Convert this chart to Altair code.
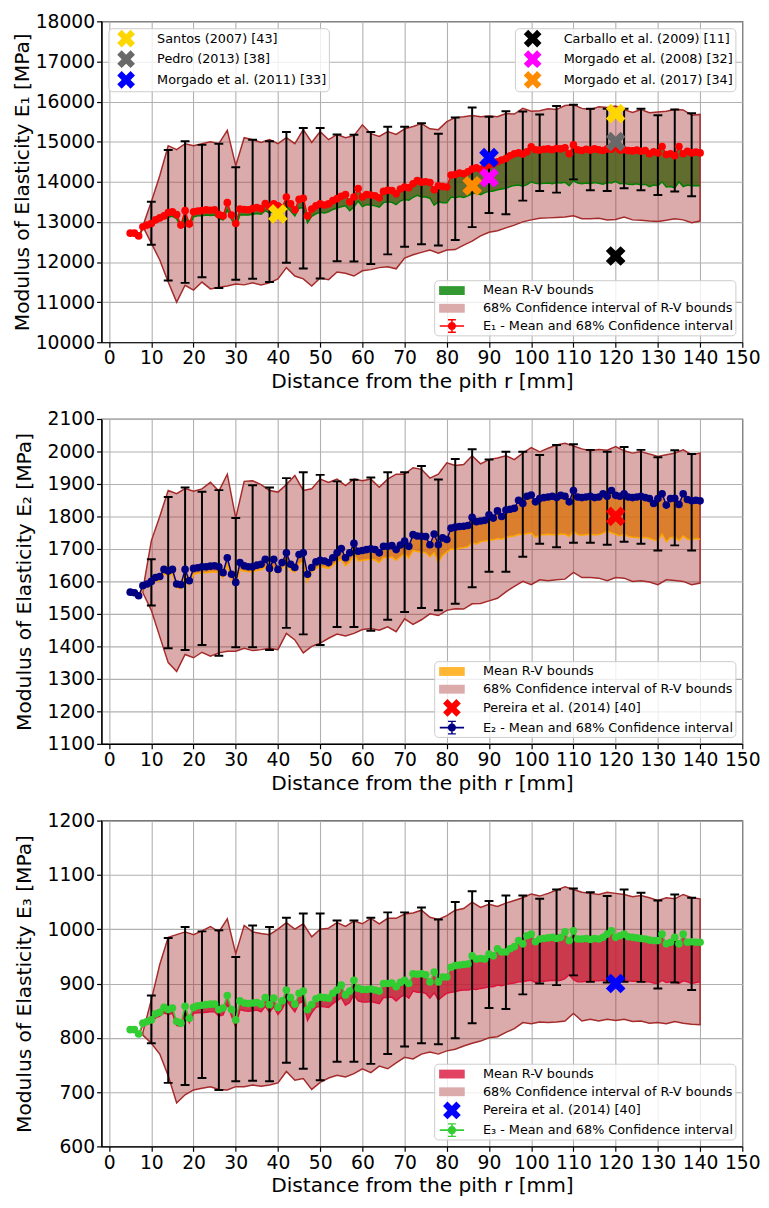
import altair as alt
import pandas as pd

FONT = "DejaVu Sans"
BROWN = "#a52a2a"

# ---------------- x positions ----------------
X_MEAN = list(range(5, 141))
X_CI = list(range(8, 141, 2))
X_ERR = list(range(10, 139, 4))
X_TICKS = list(range(0, 151, 10))

# ---------------- Panel 1 : E1 ----------------
E1_MEAN = [12720, 12720, 12650, 12880, 12920, 12960, 13050, 13100, 13150, 13230,
           13250, 13180, 12920, 13280, 12950, 13250, 13270, 13280, 13300, 13290,
           13300, 13180, 13150, 13480, 13170, 12960, 13320, 13310, 13300, 13330,
           13360, 13330, 13460, 13380, 13450, 13400, 13350, 13620, 13450, 13300,
           13560, 13590, 13150, 13320, 13400, 13450, 13420, 13450, 13530, 13580,
           13640, 13680, 13500, 13620, 13830, 13620, 13680, 13670, 13650, 13600,
           13760, 13790, 13780, 13700, 13820, 13870, 13850, 13950, 14030, 13990,
           14000, 13980, 13800, 13900, 13880, 13870, 14170, 14180, 14220, 14200,
           14250, 14320, 14350, 14310, 14380, 14420, 14450, 14500, 14540, 14580,
           14650, 14700, 14720, 14690, 14750, 14870, 14800, 14790, 14810, 14820,
           14800, 14830, 14820, 14850, 14700, 14920, 14800, 14780, 14810, 14790,
           14820, 14800, 14780, 14820, 14810, 14870, 14790, 14800, 14780, 14770,
           14790, 14760, 14780, 14700, 14750, 14720, 14880, 14680, 14700, 14650,
           14880, 14700, 14760, 14720, 14740, 14720]
E1_RV_LOW = [12680, 12680, 12620, 12830, 12870, 12900, 12990, 13040, 13080, 13120,
             13140, 13080, 12860, 13150, 12880, 13130, 13150, 13150, 13170, 13160,
             13170, 13080, 13050, 13300, 13060, 12870, 13180, 13170, 13170, 13190,
             13210, 13190, 13280, 13220, 13270, 13240, 13200, 13380, 13270, 13150,
             13340, 13360, 12980, 13140, 13200, 13240, 13220, 13250, 13310, 13340,
             13380, 13400, 13280, 13370, 13520, 13380, 13430, 13420, 13400, 13370,
             13480, 13500, 13490, 13430, 13520, 13560, 13540, 13610, 13660, 13620,
             13620, 13590, 13420, 13500, 13480, 13480, 13620, 13600, 13630, 13610,
             13650, 13700, 13720, 13680, 13730, 13760, 13770, 13800, 13820, 13840,
             13880, 13910, 13920, 13890, 13930, 14000, 13960, 13950, 13960, 13970,
             13950, 13980, 13970, 13990, 13900, 14030, 13970, 13950, 13970, 13950,
             13980, 13960, 13940, 13980, 13970, 14010, 13950, 13960, 13940, 13930,
             13950, 13920, 13940, 13880, 13920, 13900, 14000, 13870, 13880, 13850,
             14000, 13880, 13920, 13900, 13910, 13900]
E1_CI_HIGH = [12900, 13500, 14150, 14900, 14800, 14950, 14900, 14950, 15000, 14950,
              15280, 14400, 15100, 15050, 14980, 15050, 14950, 15100, 14950, 15300,
              14980, 15250, 15050, 15180, 15100, 15150, 15420, 15200, 15130, 15250,
              15180, 15320, 15380, 15450, 15320, 15300, 15500, 15600, 15620, 15650,
              15620, 15640, 15620, 15700, 15690, 15830, 15760, 15770, 15820, 15800,
              15900, 15920, 15830, 15800, 15870, 15850, 15890, 15800, 15730, 15800,
              15720, 15740, 15760, 15800, 15790, 15660, 15680]
E1_CI_LOW = [12880, 12470, 12050, 11500, 11000, 11420, 11300, 11500, 11330, 11370,
             11400, 11450, 11430, 11480, 11430, 11480, 11580, 11860, 11650, 11580,
             11400, 11600, 11560, 11750, 11720, 11650, 11780, 11810, 11860, 11880,
             11830, 12100, 12180, 12240, 12300, 12220, 12300, 12310, 12420, 12520,
             12650, 12740, 12780, 12850, 12920, 13000, 13050, 13090, 13100, 13110,
             13120, 13150, 13080, 13080, 13090, 13050, 13060, 13120, 13050, 13040,
             13020, 13010, 13040, 13080, 13050, 12980, 13020]
E1_ERR_LOW = [12430, 11540, 11480, 11620, 11350, 11560, 11580, 11500, 11980, 11840,
              11590, 12020, 12010, 11950, 12190, 12380, 12440, 12410, 12550, 12870,
              13220, 13190, 13530, 13770, 13730, 14060, 13790, 13770, 13840, 13790,
              13670, 13760, 13640]
E1_ERR_HIGH = [13500, 14790, 15010, 14920, 14950, 14360, 15050, 15010, 15240, 15340,
               15340, 15180, 15170, 15240, 15370, 15370, 15460, 15200, 15600, 15850,
               15620, 15760, 15750, 15680, 15890, 15920, 15820, 15820, 15820, 15820,
               15660, 15800, 15710]

# ---------------- Panel 2 : E2 ----------------
E2_MEAN = [1567, 1565, 1556, 1587, 1592, 1600, 1612, 1615, 1637, 1632,
           1637, 1592, 1590, 1637, 1602, 1640, 1642, 1645, 1645, 1647,
           1648, 1645, 1627, 1673, 1622, 1597, 1658, 1648, 1645, 1645,
           1650, 1653, 1668, 1640, 1668, 1637, 1658, 1688, 1653, 1643,
           1683, 1688, 1622, 1643, 1660, 1665, 1663, 1658, 1673, 1688,
           1701, 1673, 1688, 1717, 1693, 1695, 1698, 1700, 1698, 1688,
           1708, 1708, 1710, 1698, 1712, 1724, 1708, 1744, 1740, 1739,
           1738, 1713, 1746, 1713, 1734, 1729, 1764, 1767, 1769, 1770,
           1772, 1797, 1784, 1786, 1788, 1805, 1795, 1817, 1800, 1820,
           1822, 1825, 1850, 1840, 1862, 1866, 1845, 1855, 1858, 1860,
           1862, 1858, 1865, 1862, 1845, 1880, 1860, 1858, 1860, 1862,
           1858, 1860, 1870, 1862, 1880, 1865, 1862, 1870, 1860, 1858,
           1860, 1862, 1858, 1855, 1840, 1855, 1870, 1835, 1855, 1856,
           1837, 1870, 1852, 1848, 1850, 1848]
E2_RV_LOW = [1560, 1558, 1550, 1578, 1583, 1590, 1600, 1603, 1622, 1620,
             1622, 1580, 1578, 1620, 1590, 1622, 1625, 1627, 1627, 1629,
             1630, 1627, 1612, 1650, 1605, 1585, 1635, 1632, 1630, 1630,
             1634, 1636, 1645, 1625, 1645, 1625, 1640, 1660, 1635, 1628,
             1655, 1660, 1600, 1628, 1640, 1645, 1643, 1640, 1650, 1660,
             1668, 1648, 1660, 1680, 1663, 1665, 1667, 1668, 1666, 1658,
             1673, 1673, 1675, 1665, 1676, 1685, 1672, 1695, 1692, 1690,
             1688, 1675, 1688, 1658, 1680, 1690, 1700, 1698, 1702, 1704,
             1707, 1718, 1715, 1722, 1724, 1726, 1728, 1732, 1730, 1735,
             1738, 1740, 1745, 1744, 1747, 1749, 1736, 1742, 1744, 1745,
             1744, 1743, 1746, 1745, 1738, 1754, 1744, 1742, 1744, 1745,
             1743, 1744, 1748, 1755, 1750, 1745, 1740, 1745, 1738, 1736,
             1735, 1734, 1735, 1733, 1728, 1724, 1745, 1722, 1735, 1736,
             1725, 1740, 1730, 1728, 1732, 1730]
E2_CI_HIGH = [1575, 1725, 1800, 1880, 1870, 1886, 1878, 1885, 1905, 1878,
              1930, 1795, 1908, 1910, 1898, 1880, 1875, 1898, 1926, 1880,
              1885, 1915, 1905, 1915, 1895, 1915, 1910, 1915, 1890, 1915,
              1930, 1930, 1950, 1945, 1918, 1930, 1965, 1957, 1960, 1987,
              1962, 1975, 1980, 1987, 1975, 1995, 2012, 1999, 2010, 2020,
              2025, 2017, 2008, 2002, 2006, 2004, 2015, 2002, 1995, 2000,
              1992, 1985, 1990, 1995, 2005, 1990, 1995]
E2_CI_LOW = [1565, 1511, 1430, 1350, 1323, 1375, 1365, 1382, 1370, 1380,
             1385, 1385, 1394, 1387, 1390, 1394, 1390, 1440, 1420, 1380,
             1400, 1410, 1425, 1438, 1432, 1440, 1452, 1455, 1450, 1460,
             1445, 1485, 1468, 1482, 1500, 1495, 1511, 1516, 1515, 1531,
             1532, 1540, 1548, 1568, 1585, 1600, 1590, 1605, 1602, 1605,
             1607, 1628, 1612, 1612, 1610, 1602, 1612, 1610, 1600, 1602,
             1598, 1590, 1605, 1603, 1600, 1590, 1595]
E2_ERR_LOW = [1526, 1394, 1389, 1404, 1371, 1397, 1397, 1389, 1457, 1437,
              1404, 1460, 1460, 1448, 1482, 1506, 1518, 1511, 1531, 1582,
              1630, 1630, 1676, 1716, 1705, 1719, 1719, 1713, 1722, 1716,
              1695, 1711, 1695]
E2_ERR_HIGH = [1668, 1860, 1889, 1876, 1881, 1795, 1896, 1889, 1918, 1936,
               1928, 1908, 1913, 1920, 1936, 1936, 1955, 1914, 1977, 2007,
               1975, 1999, 1999, 1989, 2020, 2022, 2005, 1999, 2014, 2005,
               1982, 2004, 1992]

# ---------------- Panel 3 : E3 ----------------
E3_MEAN = [815, 815, 807, 827, 830, 833, 844, 847, 856, 852,
           855, 830, 827, 858, 836, 856, 859, 860, 861, 862,
           862, 852, 855, 878, 852, 833, 868, 864, 863, 864,
           865, 862, 874, 861, 873, 856, 868, 888, 874, 862,
           882, 886, 852, 861, 872, 875, 874, 873, 882, 888,
           897, 879, 886, 906, 891, 889, 889, 890, 888, 886,
           900, 900, 901, 894, 902, 906, 900, 918, 917, 918,
           916, 903, 921, 903, 912, 912, 930, 933, 934, 935,
           936, 951, 945, 946, 945, 954, 951, 964, 958, 958,
           964, 968, 979, 973, 988, 991, 977, 982, 983, 984,
           985, 983, 985, 995, 979, 997, 982, 982, 983, 981,
           983, 982, 985, 991, 997, 985, 988, 991, 986, 985,
           984, 983, 982, 980, 979, 979, 991, 973, 976, 985,
           973, 991, 976, 977, 976, 976]
E3_RV_LOW = [812, 812, 804, 823, 825, 828, 837, 840, 846, 843,
             845, 823, 821, 848, 828, 845, 846, 846, 847, 848,
             848, 840, 842, 862, 840, 820, 852, 850, 849, 850,
             851, 848, 858, 847, 857, 843, 853, 870, 858, 848,
             864, 867, 832, 846, 856, 858, 857, 856, 863, 868,
             874, 860, 865, 880, 868, 866, 866, 867, 865, 863,
             874, 874, 875, 868, 875, 879, 873, 886, 884, 884,
             882, 873, 883, 870, 876, 882, 884, 885, 887, 888,
             888, 890, 889, 891, 892, 894, 894, 897, 896, 898,
             900, 901, 903, 903, 905, 906, 902, 904, 904, 905,
             906, 905, 906, 909, 916, 907, 903, 903, 904, 904,
             905, 905, 906, 905, 906, 904, 905, 906, 905, 904,
             904, 904, 903, 903, 901, 900, 906, 902, 903, 903,
             900, 905, 903, 900, 902, 903]
E3_CI_HIGH = [810, 870, 935, 985, 990, 995, 990, 997, 1005, 995,
              1019, 955, 1007, 995, 992, 990, 1000, 1012, 1000, 1010,
              986, 1000, 1002, 1012, 1005, 1015, 1010, 1020, 1010, 1020,
              1020, 1028, 1030, 1035, 1022, 1018, 1025, 1035, 1038, 1050,
              1040, 1046, 1042, 1048, 1053, 1058, 1065, 1061, 1066, 1072,
              1078, 1073, 1068, 1066, 1064, 1068, 1066, 1064, 1060, 1062,
              1058, 1053, 1058, 1056, 1064, 1058, 1056]
E3_CI_LOW = [805, 790, 770, 730, 680, 695, 704, 707, 710, 705,
             704, 710, 710, 713, 711, 713, 717, 738, 722, 725,
             705, 718, 726, 731, 728, 734, 743, 736, 748, 743,
             754, 764, 761, 770, 774, 770, 776, 779, 785, 790,
             794, 800, 802, 810, 817, 828, 826, 829, 828, 829,
             831, 845, 831, 834, 831, 834, 832, 834, 830, 831,
             827, 828, 826, 830, 827, 825, 824]
E3_ERR_LOW = [790, 717, 713, 726, 704, 720, 721, 720, 754, 743,
              722, 756, 756, 752, 770, 784, 790, 788, 799, 827,
              855, 853, 880, 900, 897, 915, 903, 902, 903, 903,
              891, 902, 888]
E3_ERR_HIGH = [878, 984, 1004, 996, 998, 949, 1007, 1004, 1021, 1029,
               1029, 1016, 1016, 1021, 1031, 1031, 1040, 1018, 1050, 1070,
               1052, 1062, 1062, 1056, 1073, 1075, 1068, 1061, 1073, 1067,
               1053, 1064, 1058]

# ---------------- literature values ----------------
LIT_A_NAMES = ["Santos (2007) [43]", "Pedro (2013) [38]", "Morgado et al. (2011) [33]"]
LIT_A_COLORS = ["#ffd700", "#696969", "#0000ff"]
LIT_A_STUDY = ["Santos (2007) [43]", "Santos (2007) [43]", "Pedro (2013) [38]",
               "Morgado et al. (2011) [33]"]
LIT_A_X = [40, 120, 120, 90]
LIT_A_Y = [13200, 15700, 15000, 14600]

LIT_B_NAMES = ["Carballo et al. (2009) [11]", "Morgado et al. (2008) [32]",
               "Morgado et al. (2017) [34]"]
LIT_B_COLORS = ["#000000", "#ff00ff", "#ff8c00"]
LIT_B_X = [120, 90, 86]
LIT_B_Y = [12150, 14100, 13900]

PEREIRA = "Pereira et al. (2014) [40]"
PEREIRA_X = [120]
PEREIRA_E2 = [1800]
PEREIRA_E3 = [900]

# ---------------- symbol shapes ----------------
XPATH = "M0,-0.5L0.5,-1L1,-0.5L0.5,0L1,0.5L0.5,1L0,0.5L-0.5,1L-1,0.5L-0.5,0L-1,-0.5L-0.5,-1Z"
XLEG = ("M0,-0.53L0.53,-1.06L1.06,-0.53L0.53,0L1.06,0.53L0.53,1.06L0,0.53"
        "L-0.53,1.06L-1.06,0.53L-0.53,0L-1.06,-0.53L-0.53,-1.06Z")
RECT = "M-1.53,-0.53L1.53,-0.53L1.53,0.53L-1.53,0.53Z"
MEANSYM = ("M-1.45,-0.1L1.45,-0.1L1.45,0.1L-1.45,0.1Z"
           "M-0.49,0A0.49,0.49 0 1,1 0.49,0A0.49,0.49 0 1,1 -0.49,0Z"
           "M-0.09,-0.74L0.09,-0.74L0.09,0.74L-0.09,0.74Z"
           "M-0.47,-0.83L0.47,-0.83L0.47,-0.67L-0.47,-0.67Z"
           "M-0.47,0.67L0.47,0.67L0.47,0.83L-0.47,0.83Z")


def make_panel(mean, rv, ci_lo, ci_hi, e_lo, e_hi, ydom, ystep, ytitle,
               mean_color, band_color, band_legend, mean_label,
               width, height, ytitle_pad=0, lit_a=None, lit_b=None, extra=None):
    xs = alt.Scale(domain=[-1.8, 150], nice=False, zero=False)
    ys = alt.Scale(domain=ydom, nice=False, zero=False)
    xax = alt.Axis(values=X_TICKS, title="Distance from the pith r [mm]",
                   labelFlush=False, labelOverlap=False)
    yax = alt.Axis(values=list(range(ydom[0], ydom[1] + 1, ystep)), format="d",
                   title=ytitle, labelOverlap=False, titlePadding=ytitle_pad)

    def X():
        return alt.X("x:Q", scale=xs, axis=xax)

    def Y(f):
        return alt.Y(f + ":Q", scale=ys, axis=yax)

    df_m = pd.DataFrame({"x": X_MEAN, "mean": mean, "rv": rv})
    df_ci = pd.DataFrame({"x": X_CI, "lo": ci_lo, "hi": ci_hi})
    df_e = pd.DataFrame({"x": X_ERR, "lo": e_lo, "hi": e_hi})
    df_caps = pd.DataFrame({"x": X_ERR + X_ERR, "v": e_lo + e_hi})

    layers = [
        alt.Chart(df_m).mark_area(fill=band_color, fillOpacity=0.8, clip=True)
        .encode(x=X(), y=Y("rv"), y2=alt.Y2("mean:Q")),
        alt.Chart(df_ci).mark_area(fill=BROWN, fillOpacity=0.4, stroke=BROWN,
                                   strokeWidth=1.5, strokeOpacity=1, clip=True)
        .encode(x=X(), y=Y("lo"), y2=alt.Y2("hi:Q")),
        alt.Chart(df_m).mark_line(color=band_color, strokeWidth=1.5, clip=True)
        .encode(x=X(), y=Y("rv")),
        alt.Chart(df_e).mark_rule(color="black", strokeWidth=2, clip=True)
        .encode(x=X(), y=Y("lo"), y2=alt.Y2("hi:Q")),
        alt.Chart(df_caps).mark_tick(color="black", orient="horizontal", size=9,
                                     thickness=2, opacity=1, clip=True)
        .encode(x=X(), y=Y("v")),
        alt.Chart(df_m).mark_line(color=mean_color, strokeWidth=1.5, clip=True)
        .encode(x=X(), y=Y("mean")),
        alt.Chart(df_m).mark_circle(color=mean_color, size=60, opacity=1, clip=True)
        .encode(x=X(), y=Y("mean")),
    ]

    leg_labels = ["Mean R-V bounds", "68% Confidence interval of R-V bounds"]
    leg_colors = [band_legend, "#dbaaaa"]
    leg_shapes = [RECT, RECT]

    for lit, orient in ((lit_a, "top-left"), (lit_b, "top-right")):
        if lit is None:
            continue
        names, colors, study, lx, ly = lit
        dfl = pd.DataFrame({"x": lx, "v": ly, "study": study})
        layers.append(
            alt.Chart(dfl).mark_point(shape=XPATH, filled=True, size=400, opacity=1)
            .encode(x=X(), y=Y("v"),
                    fill=alt.Fill("study:N", scale=alt.Scale(domain=names, range=colors),
                                  legend=alt.Legend(title=None, orient=orient,
                                                    symbolType=XLEG)))
        )

    if extra is not None:
        ename, ecolor, ex, ey = extra
        dfx = pd.DataFrame({"x": ex, "v": ey})
        layers.append(
            alt.Chart(dfx).mark_point(shape=XPATH, filled=True, size=400, opacity=1,
                                      color=ecolor)
            .encode(x=X(), y=Y("v"))
        )
        leg_labels.append(ename)
        leg_colors.append(ecolor)
        leg_shapes.append(XLEG)

    leg_labels.append(mean_label)
    leg_colors.append(mean_color)
    leg_shapes.append(MEANSYM)

    n = len(leg_labels)
    df_leg = pd.DataFrame({"label": leg_labels, "x": [float("nan")] * n,
                           "v": [float("nan")] * n})
    layers.append(
        alt.Chart(df_leg).mark_point(filled=True, opacity=1)
        .encode(x=X(), y=Y("v"),
                fill=alt.Fill("label:N", scale=alt.Scale(domain=leg_labels, range=leg_colors),
                              legend=alt.Legend(title=None, orient="bottom-right")),
                shape=alt.Shape("label:N", scale=alt.Scale(domain=leg_labels, range=leg_shapes),
                                legend=alt.Legend(title=None, orient="bottom-right")))
    )

    return alt.layer(*layers).resolve_scale(fill="independent", shape="independent") \
        .properties(width=width, height=height)


p1 = make_panel(E1_MEAN, E1_RV_LOW, E1_CI_LOW, E1_CI_HIGH, E1_ERR_LOW, E1_ERR_HIGH,
                [10000, 18000], 1000, "Modulus of Elasticity E₁ [MPa]",
                "#ff0000", "#008000", "#339933",
                "E₁ - Mean and 68% Confidence interval", 651, 326, ytitle_pad=3,
                lit_a=(LIT_A_NAMES, LIT_A_COLORS, LIT_A_STUDY, LIT_A_X, LIT_A_Y),
                lit_b=(LIT_B_NAMES, LIT_B_COLORS, LIT_B_NAMES, LIT_B_X, LIT_B_Y))

p2 = make_panel(E2_MEAN, E2_RV_LOW, E2_CI_LOW, E2_CI_HIGH, E2_ERR_LOW, E2_ERR_HIGH,
                [1100, 2100], 100, "Modulus of Elasticity E₂ [MPa]",
                "#000080", "#ffa500", "#ffb733",
                "E₂ - Mean and 68% Confidence interval", 651, 330, ytitle_pad=13,
                extra=(PEREIRA, "#ff0000", PEREIRA_X, PEREIRA_E2))

p3 = make_panel(E3_MEAN, E3_RV_LOW, E3_CI_LOW, E3_CI_HIGH, E3_ERR_LOW, E3_ERR_HIGH,
                [600, 1200], 100, "Modulus of Elasticity E₃ [MPa]",
                "#32cd32", "#dc143c", "#e34363",
                "E₃ - Mean and 68% Confidence interval", 651, 331, ytitle_pad=13,
                extra=(PEREIRA, "#0000ff", PEREIRA_X, PEREIRA_E3))

chart = alt.concat(p1, p2, p3, columns=1, spacing=16).properties(
    padding={"left": 3, "top": -6, "right": 0, "bottom": 0},
).configure_view(
    stroke="black", strokeWidth=1.2
).configure_axis(
    labelFont=FONT, titleFont=FONT, labelFontSize=19, titleFontSize=20.5,
    titleFontWeight="normal", labelColor="black", titleColor="black",
    tickColor="black", domainColor="black", gridColor="#b0b0b0", gridWidth=1.1,
    tickSize=5, tickWidth=1.2, domainWidth=1.2,
).configure_axisX(
    labelPadding=2, titlePadding=4
).configure_axisY(
    labelPadding=2
).configure_legend(
    labelFont=FONT, labelFontSize=13, labelColor="black", padding=2, rowPadding=2,
    symbolSize=289, symbolStrokeWidth=0, symbolOffset=7.5, labelOffset=23, offset=7,
    fillColor="rgba(255,255,255,0.8)", strokeColor="#cccccc", cornerRadius=4,
    labelLimit=400,
)

chart.save("out.html", embed_options={"renderer": "svg", "actions": False})
